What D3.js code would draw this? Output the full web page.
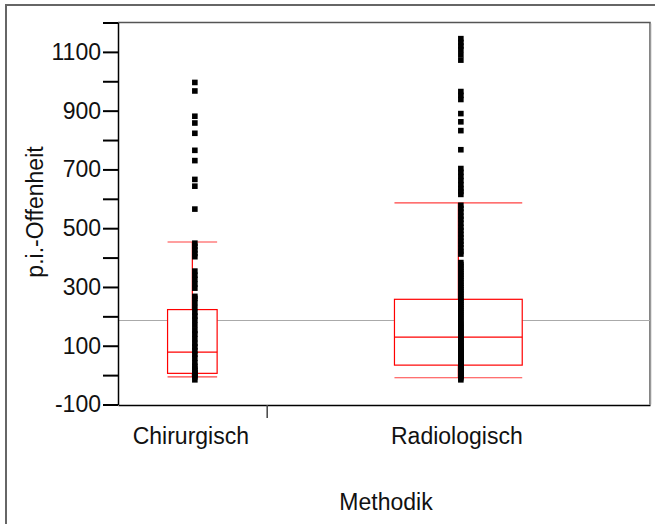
<!DOCTYPE html>
<html>
<head>
<meta charset="utf-8">
<script src="https://cdn.jsdelivr.net/npm/d3@7"></script>
<style>
    body { margin: 0; background: #fff; }
    svg { display: block; }
</style>
</head>
<body>
<svg width="655" height="524"></svg>
<script>
// values
const groups = ['Chirurgisch', 'Radiologisch'];

const chirurgischValues = [
    996, 967, 881, 858, 823, 765, 730, 666, 643, 565,
    449, 438, 426, 414, 403,
    354, 340, 326, 310, 296,
    268, 261, 247, 230, 214, 201, 187, 170, 152, 140,
    124, 108, 96, 83, 71, 58, 42, 30, 21, 14,
    8, 3, 0, -6, -16
];

const radiologischValues = [
    1145, 1132, 1120, 1108, 1090, 1072,
    965, 952, 938,
    890, 862, 832, 767,
    703, 690, 676, 662, 648, 635, 625, 615,
    578, 567, 555, 541, 530, 517, 503, 492, 479, 468, 456, 445, 433, 421, 412,
    383, 376, 368, 360, 352, 344, 337, 329, 321, 313,
    305, 298, 290, 283, 276, 268, 261, 254, 247, 240,
    233, 226, 219, 212, 205, 198, 191, 184, 177, 171,
    165, 159, 153, 147, 141, 136, 131, 126, 121, 116,
    111, 106, 101, 96, 92, 88, 84, 80, 76, 72,
    68, 64, 60, 57, 54, 51, 48, 45, 42, 39,
    36, 33, 30, 27, 24, 21, 18, 15, 12, 10,
    8, 6, 4, 3, 2, 1, 0, -4, -9, -16
];

const whiskerLow = [-6, -9];
const quartile1 = [6, 34];
const medians = [78, 129];
const quartile3 = [223, 258];
const whiskerHigh = [453, 586];
const grandMean = 187;

const yLabelTicks = [-100, 100, 300, 500, 700, 900, 1100];
const yMinorTicks = [0, 200, 400, 600, 800, 1000, 1200];

function renderChart() {
    const svg = d3.select('svg');
    const left = 118,
        right = 650,
        top = 22.5,
        bottom = 404.5;
    const font = 'Arial, "Liberation Sans", sans-serif';

    const series = [chirurgischValues, radiologischValues];
    const counts = series.map((s) => s.length);
    const starts = d3.cumsum([0].concat(counts));
    const total = d3.sum(counts);

    // JMP style: group width proportional to group size
    const x = d3.scaleLinear().domain([0, total]).range([left, right]);
    const y = d3.scaleLinear().domain([-100, 1200]).range([bottom, top]);

    const center = (i) => x(starts[i] + counts[i] / 2);
    const boxHalf = (i) => (x(counts[i]) - x(0)) / 6;

    // outer frame
    svg.append('rect')
        .attr('x', 6)
        .attr('y', 5)
        .attr('width', 700)
        .attr('height', 600)
        .attr('fill', 'none')
        .attr('stroke', '#666')
        .attr('stroke-width', 2);

    // plot frame top / right
    svg.append('path')
        .attr('d', `M${left},${top}H${right}V${bottom}`)
        .attr('fill', 'none')
        .attr('stroke', '#555')
        .attr('stroke-width', 1.5);

    svg.append('line')
        .attr('x1', right + 0.5)
        .attr('x2', right + 0.5)
        .attr('y1', top + 1)
        .attr('y2', bottom)
        .attr('stroke', '#999')
        .attr('stroke-width', 1.5);

    // grand mean
    svg.append('line')
        .attr('x1', left)
        .attr('x2', right)
        .attr('y1', Math.round(y(grandMean)) + 0.5)
        .attr('y2', Math.round(y(grandMean)) + 0.5)
        .attr('stroke', '#aaa')
        .attr('stroke-width', 1);

    // box plots
    const box = svg
        .append('g')
        .attr('fill', 'none')
        .attr('stroke', '#f00')
        .attr('stroke-width', 1.2)
        .selectAll('g')
        .data(groups)
        .enter()
        .append('g');

    box.append('line')
        .attr('x1', (d, i) => center(i))
        .attr('x2', (d, i) => center(i))
        .attr('y1', (d, i) => y(whiskerLow[i]))
        .attr('y2', (d, i) => y(whiskerHigh[i]));

    box.append('rect')
        .attr('x', (d, i) => center(i) - boxHalf(i))
        .attr('width', (d, i) => 2 * boxHalf(i))
        .attr('y', (d, i) => y(quartile3[i]))
        .attr('height', (d, i) => y(quartile1[i]) - y(quartile3[i]))
        .attr('fill', '#fff');

    box.append('line')
        .attr('x1', (d, i) => center(i) - boxHalf(i))
        .attr('x2', (d, i) => center(i) + boxHalf(i))
        .attr('y1', (d, i) => y(medians[i]))
        .attr('y2', (d, i) => y(medians[i]));

    [whiskerLow, whiskerHigh].forEach((w) => {
        box.append('line')
            .attr('x1', (d, i) => center(i) - boxHalf(i))
            .attr('x2', (d, i) => center(i) + boxHalf(i))
            .attr('y1', (d, i) => y(w[i]))
            .attr('y2', (d, i) => y(w[i]))
            .attr('stroke-opacity', 0.75);
    });

    // points
    const size = 5.6;
    const points = series.flatMap((s, i) => s.map((v) => ({ i: i, v: v })));
    svg.append('g')
        .attr('fill', '#000')
        .selectAll('rect')
        .data(points)
        .enter()
        .append('rect')
        .attr('x', (d) => center(d.i) + 2.5 - size / 2)
        .attr('y', (d) => y(d.v) - size / 2)
        .attr('width', size)
        .attr('height', size);

    // y axis
    const yAxis = svg
        .append('g')
        .attr('transform', `translate(${left},0)`)
        .call(
            d3
                .axisLeft(y)
                .tickValues(yLabelTicks.concat(yMinorTicks))
                .tickFormat((d) => (yLabelTicks.includes(d) ? d : ''))
                .tickSize(15)
                .tickSizeOuter(0)
                .tickPadding(2)
        );
    yAxis.selectAll('line').attr('stroke', '#000').attr('stroke-width', 2);
    yAxis.select('.domain').attr('stroke', '#000').attr('stroke-width', 1.5);
    yAxis.selectAll('text')
        .attr('fill', '#111')
        .style('font', `23px ${font}`);

    // x axis
    const xAxis = svg
        .append('g')
        .attr('transform', `translate(0,${bottom + 0.5})`)
        .call(
            d3
                .axisBottom(x)
                .tickValues(starts.slice(1, -1))
                .tickFormat('')
                .tickSize(13)
                .tickSizeOuter(0)
        );
    xAxis.select('.domain').attr('stroke', '#000').attr('stroke-width', 1.5);
    xAxis.selectAll('line').attr('stroke', '#444').attr('stroke-width', 1.5);

    svg.append('g')
        .selectAll('text')
        .data(groups)
        .enter()
        .append('text')
        .attr('x', (d, i) => center(i) - 1.5)
        .attr('y', 444)
        .attr('text-anchor', 'middle')
        .attr('fill', '#111')
        .style('font', `23px ${font}`)
        .text((d) => d);

    svg.append('text')
        .attr('x', 386)
        .attr('y', 510)
        .attr('text-anchor', 'middle')
        .attr('fill', '#111')
        .style('font', `23px ${font}`)
        .text('Methodik');

    svg.append('text')
        .attr('transform', 'translate(43,212) rotate(-90)')
        .attr('text-anchor', 'middle')
        .attr('fill', '#111')
        .style('font', `23px ${font}`)
        .text('p.i.-Offenheit');
}

renderChart();
</script>
</body>
</html>
